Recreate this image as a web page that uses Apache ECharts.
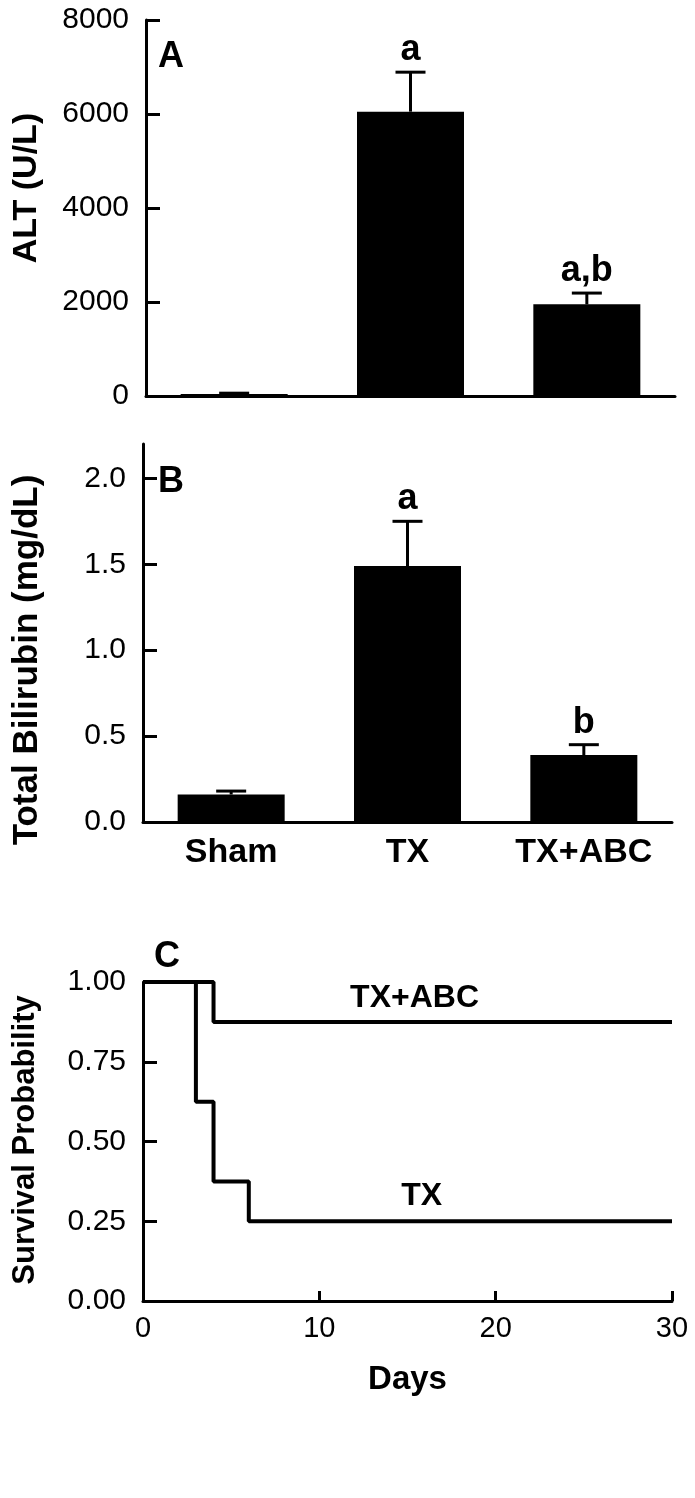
<!DOCTYPE html>
<html>
<head>
<meta charset="utf-8">
<title>ALT, bilirubin and survival</title>
<script src="https://cdn.jsdelivr.net/npm/echarts@6/dist/echarts.min.js"></script>
<style>
  html, body { margin: 0; padding: 0; background: #fff; }
  #chart { width: 695px; height: 1498px; }
</style>
</head>
<body>
<div id="chart"></div>
<script>
// groups on the two bar panels
const groups = ['Sham', 'TX', 'TX+ABC'];

// panel A: ALT (U/L), mean and error
const altMean = [40, 6050, 1950];
const altErr = [20, 840, 240];
const altSig = ['', 'a', 'a,b'];

// panel B: total bilirubin (mg/dL)
const bilMean = [0.16, 1.49, 0.39];
const bilErr = [0.02, 0.26, 0.06];
const bilSig = ['', 'a', 'b'];

// panel C: survival steps
const abcDays = [0, 4, 30];
const abcSurv = [1, 0.875, 0.875];
const txDays = [0, 3, 4, 6, 30];
const txSurv = [1, 0.625, 0.375, 0.25, 0.25];

// curve labels (data units)
const curveNames = ['TX+ABC', 'TX'];
const curveLabelDay = [15.4, 15.8];
const curveLabelSurv = [0.95, 0.33];

const FONT = 'Liberation Sans';
const BLACK = '#000';

// error bar + significance letter, drawn with the axes' own coords
function errorBars(sig) {
  return function (params, api) {
    const x = api.value(0);
    const base = api.coord([x, api.value(1)]);
    const top = api.coord([x, api.value(2)]);
    const half = 15;
    return {
      type: 'group',
      children: [
        { type: 'line', shape: { x1: base[0], y1: base[1], x2: top[0], y2: top[1] },
          style: { stroke: BLACK, lineWidth: 3 } },
        { type: 'line', shape: { x1: top[0] - half, y1: top[1], x2: top[0] + half, y2: top[1] },
          style: { stroke: BLACK, lineWidth: 3 } },
        { type: 'text', x: top[0], y: top[1] - 4,
          style: { text: sig[params.dataIndex], font: 'bold 36px "' + FONT + '"',
                   fill: BLACK, align: 'center', verticalAlign: 'bottom' } }
      ]
    };
  };
}

function yAxisBase(grid, min, max, interval, digits) {
  return {
    type: 'value', gridIndex: grid, min: min, max: max, interval: interval,
    axisLine: { show: true, lineStyle: { color: BLACK, width: 3 } },
    axisTick: { show: true, inside: true, length: 14, lineStyle: { color: BLACK, width: 3 } },
    axisLabel: { color: BLACK, fontSize: 30, margin: 17, fontFamily: FONT,
                 formatter: v => v.toFixed(digits) },
    splitLine: { show: false }
  };
}

const chart = echarts.init(document.getElementById('chart'));

const yB = yAxisBase(1, 0, 2.2, 0.5, 1);
yB.axisLabel.customValues = [0, 0.5, 1, 1.5, 2];
yB.axisTick.customValues = [0, 0.5, 1, 1.5, 2];

chart.setOption({
  animation: false,
  backgroundColor: '#fff',
  textStyle: { fontFamily: FONT, color: BLACK },
  grid: [
    { left: 146, right: 20, top: 20, bottom: 1102 },
    { left: 143, right: 23, top: 444, bottom: 676 },
    { left: 143, right: 23, top: 982, bottom: 197 }
  ],
  xAxis: [
    {
      type: 'category', gridIndex: 0, data: groups,
      axisLine: { lineStyle: { color: BLACK, width: 3 } },
      axisTick: { show: false }, axisLabel: { show: false }
    },
    {
      type: 'category', gridIndex: 1, data: groups,
      axisLine: { lineStyle: { color: BLACK, width: 3 } },
      axisTick: { show: false },
      axisLabel: { color: BLACK, fontSize: 34, fontWeight: 'bold', margin: 14,
                   fontFamily: FONT, interval: 0 }
    },
    {
      type: 'value', gridIndex: 2, min: 0, max: 30, interval: 10,
      name: 'Days', nameLocation: 'middle', nameGap: 62,
      nameTextStyle: { color: BLACK, fontSize: 33, fontWeight: 'bold', fontFamily: FONT },
      axisLine: { show: true, lineStyle: { color: BLACK, width: 3 } },
      axisTick: { show: true, inside: true, length: 10, lineStyle: { color: BLACK, width: 3 } },
      axisLabel: { color: BLACK, fontSize: 29, margin: 13, fontFamily: FONT },
      splitLine: { show: false }
    }
  ],
  yAxis: [
    yAxisBase(0, 0, 8000, 2000, 0),
    yB,
    yAxisBase(2, 0, 1, 0.25, 2)
  ],
  graphic: [
    { type: 'text', x: 171, y: 57, style: { text: 'A', font: 'bold 36px "' + FONT + '"', fill: BLACK, align: 'center', verticalAlign: 'middle' } },
    { type: 'text', x: 171, y: 482, style: { text: 'B', font: 'bold 36px "' + FONT + '"', fill: BLACK, align: 'center', verticalAlign: 'middle' } },
    { type: 'text', x: 167, y: 957, style: { text: 'C', font: 'bold 36px "' + FONT + '"', fill: BLACK, align: 'center', verticalAlign: 'middle' } },
    { type: 'text', x: 27, y: 188, rotation: Math.PI / 2, style: { text: 'ALT (U/L)', font: 'bold 34px "' + FONT + '"', fill: BLACK, align: 'center', verticalAlign: 'middle' } },
    { type: 'text', x: 27, y: 660, rotation: Math.PI / 2, style: { text: 'Total Bilirubin (mg/dL)', font: 'bold 35px "' + FONT + '"', fill: BLACK, align: 'center', verticalAlign: 'middle' } },
    { type: 'text', x: 25, y: 1140, rotation: Math.PI / 2, style: { text: 'Survival Probability', font: 'bold 31px "' + FONT + '"', fill: BLACK, align: 'center', verticalAlign: 'middle' } }
  ],
  series: [
    {
      name: 'ALT', type: 'bar', xAxisIndex: 0, yAxisIndex: 0,
      data: altMean, barWidth: 107, itemStyle: { color: BLACK }
    },
    {
      name: 'ALT error', type: 'custom', xAxisIndex: 0, yAxisIndex: 0, z: 3,
      renderItem: errorBars(altSig),
      data: altMean.map((m, i) => [i, m, m + altErr[i]])
    },
    {
      name: 'Bilirubin', type: 'bar', xAxisIndex: 1, yAxisIndex: 1,
      data: bilMean, barWidth: 107, itemStyle: { color: BLACK }
    },
    {
      name: 'Bilirubin error', type: 'custom', xAxisIndex: 1, yAxisIndex: 1, z: 3,
      renderItem: errorBars(bilSig),
      data: bilMean.map((m, i) => [i, m, m + bilErr[i]])
    },
    {
      name: 'TX+ABC', type: 'line', xAxisIndex: 2, yAxisIndex: 2, step: 'end',
      showSymbol: false, clip: false,
      lineStyle: { color: BLACK, width: 4 },
      data: abcDays.map((d, i) => [d, abcSurv[i]])
    },
    {
      name: 'TX', type: 'line', xAxisIndex: 2, yAxisIndex: 2, step: 'end',
      showSymbol: false, clip: false,
      lineStyle: { color: BLACK, width: 4 },
      data: txDays.map((d, i) => [d, txSurv[i]])
    },
    {
      name: 'curve labels', type: 'scatter', xAxisIndex: 2, yAxisIndex: 2,
      symbolSize: 0, silent: true, itemStyle: { opacity: 1, color: BLACK },
      label: {
        show: true, position: 'inside', color: BLACK,
        fontSize: 32, fontWeight: 'bold', fontFamily: FONT,
        formatter: p => curveNames[p.dataIndex]
      },
      data: curveLabelDay.map((d, i) => [d, curveLabelSurv[i]])
    }
  ]
});

window.addEventListener('resize', () => chart.resize());
</script>
</body>
</html>
